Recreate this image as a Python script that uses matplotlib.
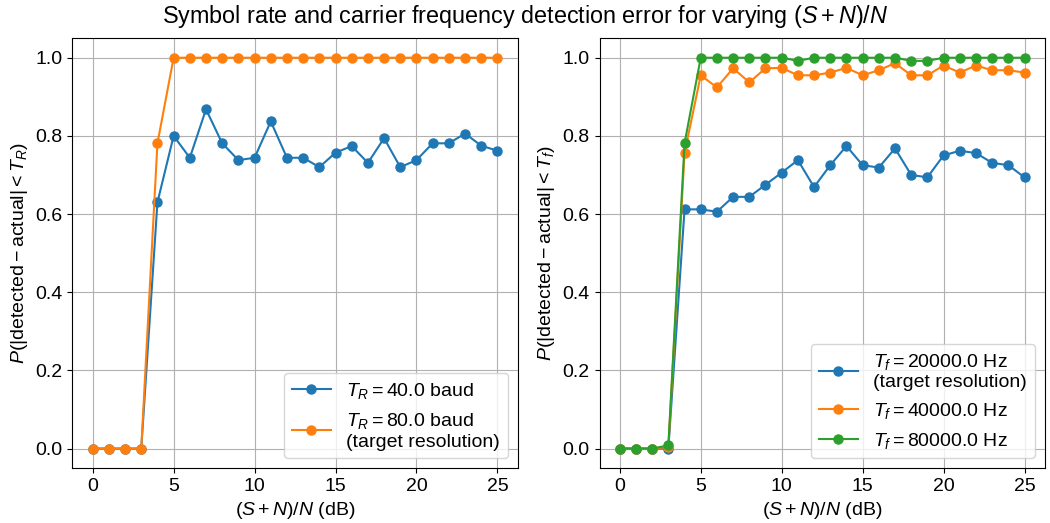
import matplotlib
matplotlib.use("Agg")
from matplotlib import pyplot as plt

plt.rcParams['font.family'] = ['Liberation Sans', 'DejaVu Sans']
plt.rcParams['mathtext.fontset'] = 'custom'
plt.rcParams['mathtext.rm'] = 'Liberation Sans'
plt.rcParams['mathtext.it'] = 'Liberation Sans:italic'
plt.rcParams['font.size'] = 14

snr = list(range(26))

# symbol rate detection
rate_40 = [0, 0, 0, 0, 0.63, 0.80, 0.744, 0.868, 0.781, 0.738, 0.744, 0.837, 0.744,
           0.744, 0.72, 0.757, 0.774, 0.731, 0.794, 0.72, 0.738, 0.781, 0.781,
           0.806, 0.775, 0.762]
rate_80 = [0, 0, 0, 0, 0.781] + [1.0] * 21

# carrier frequency detection
freq_20k = [0, 0, 0, 0, 0.612, 0.612, 0.606, 0.644, 0.644, 0.675, 0.706, 0.738,
            0.669, 0.725, 0.774, 0.725, 0.719, 0.768, 0.70, 0.694, 0.75, 0.762,
            0.756, 0.731, 0.725, 0.694]
freq_40k = [0, 0, 0, 0.004, 0.756, 0.955, 0.924, 0.973, 0.937, 0.973, 0.974, 0.955,
            0.955, 0.962, 0.974, 0.955, 0.968, 0.986, 0.955, 0.955, 0.98, 0.962,
            0.98, 0.968, 0.968, 0.962]
freq_80k = [0, 0, 0, 0.008, 0.781, 1.0, 1.0, 1.0, 1.0, 1.0, 1.0, 0.992, 1.0, 1.0,
            1.0, 1.0, 1.0, 1.0, 0.992, 0.992, 1.0, 1.0, 1.0, 1.0, 1.0, 1.0]

fig, (ax1, ax2) = plt.subplots(1, 2, figsize=(10.5, 5.23), dpi=100)

ax1.plot(snr, rate_40, marker='o', ms=6.5, label='$T_R = 40.0$ baud')
ax1.plot(snr, rate_80, marker='o', ms=6.5, label='$T_R = 80.0$ baud\n(target resolution)')
ax1.set_xlabel('$(S+N)/N$ (dB)')
ax1.set_ylabel(r'$P(|\mathrm{detected} - \mathrm{actual}| < T_R)$')
ax1.legend(loc='lower right')
ax1.grid(True)

ax2.plot(snr, freq_20k, marker='o', ms=6.5, label='$T_f = 20000.0$ Hz\n(target resolution)')
ax2.plot(snr, freq_40k, marker='o', ms=6.5, label='$T_f = 40000.0$ Hz')
ax2.plot(snr, freq_80k, marker='o', ms=6.5, label='$T_f = 80000.0$ Hz')
ax2.set_xlabel('$(S+N)/N$ (dB)')
ax2.set_ylabel(r'$P(|\mathrm{detected} - \mathrm{actual}| < T_f)$')
ax2.legend(loc='lower right')
ax2.grid(True)

fig.suptitle('Symbol rate and carrier frequency detection error for varying $(S+N)/N$',
             y=0.995)
fig.subplots_adjust(left=0.069, right=0.995, top=0.927, bottom=0.105, wspace=0.184)
fig.savefig('out.png')
